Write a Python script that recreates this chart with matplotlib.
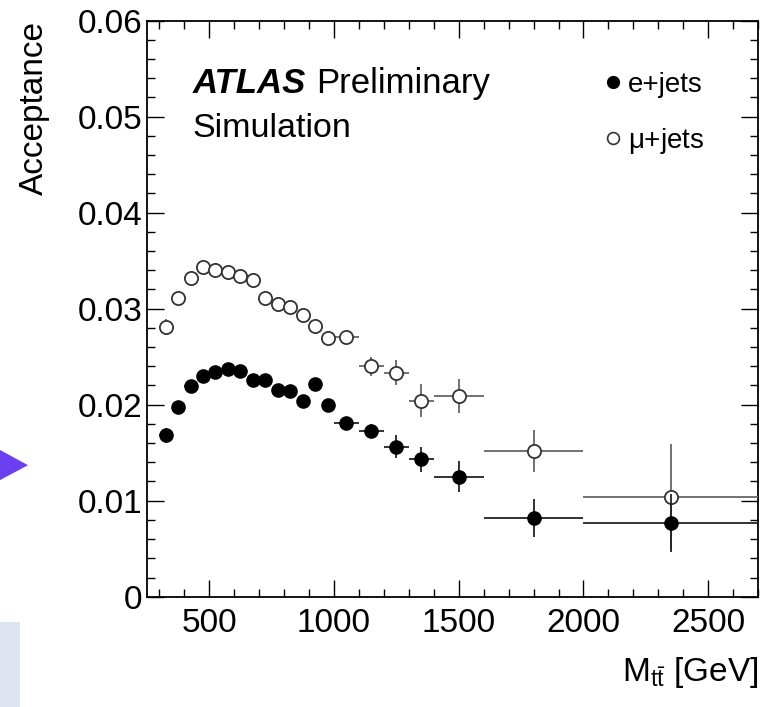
import numpy as np
import matplotlib.pyplot as plt
from matplotlib.lines import Line2D
from matplotlib.patches import Rectangle, Polygon

# DATA: acceptance vs M_tt bins
bin_lo = [300, 350, 400, 450, 500, 550, 600, 650, 700, 750, 800, 850, 900, 950,
          1000, 1100, 1200, 1300, 1400, 1600, 2000]
bin_hi = [350, 400, 450, 500, 550, 600, 650, 700, 750, 800, 850, 900, 950, 1000,
          1100, 1200, 1300, 1400, 1600, 2000, 2700]

e_acc = [0.0168, 0.0198, 0.0219, 0.0230, 0.0234, 0.0237, 0.0235, 0.0226, 0.0226,
         0.0215, 0.0214, 0.0204, 0.0222, 0.0200, 0.0181, 0.0173, 0.0156, 0.0143,
         0.0125, 0.0082, 0.0077]
e_err = [0.0008, 0.0005, 0.0004, 0.0004, 0.0004, 0.0004, 0.0004, 0.0004, 0.0004,
         0.0004, 0.0004, 0.0004, 0.0005, 0.0005, 0.0005, 0.0007, 0.0012, 0.0013,
         0.0016, 0.0020, 0.0030]

mu_acc = [0.0281, 0.0311, 0.0332, 0.0343, 0.0340, 0.0338, 0.0334, 0.0330, 0.0311,
          0.0305, 0.0302, 0.0293, 0.0282, 0.0269, 0.0270, 0.0240, 0.0233, 0.0204,
          0.0209, 0.0152, 0.0104]
mu_err = [0.0008, 0.0005, 0.0004, 0.0004, 0.0004, 0.0004, 0.0004, 0.0004, 0.0004,
          0.0004, 0.0004, 0.0004, 0.0005, 0.0005, 0.0005, 0.0010, 0.0013, 0.0017,
          0.0018, 0.0022, 0.0055]

plt.rcParams['font.family'] = ['Liberation Sans', 'DejaVu Sans']
plt.rcParams['mathtext.fontset'] = 'custom'
plt.rcParams['mathtext.rm'] = 'Liberation Sans'
plt.rcParams['mathtext.it'] = 'Liberation Sans:italic'

lo = np.array(bin_lo, dtype=float)
hi = np.array(bin_hi, dtype=float)
xc = 0.5 * (lo + hi)
xerr = 0.5 * (hi - lo)

fig = plt.figure(figsize=(7.65, 7.07), dpi=100)
ax = fig.add_axes([0.192, 0.156, 0.799, 0.815])

ax.errorbar(xc, mu_acc, yerr=mu_err, xerr=xerr, fmt='o', ms=9.5, mfc='white',
            mec='#333333', mew=1.3, ecolor='#666666', elinewidth=1.3, capsize=0,
            zorder=3)
ax.errorbar(xc, e_acc, yerr=e_err, xerr=xerr, fmt='o', ms=9.5, mfc='black',
            mec='black', ecolor='#222222', elinewidth=1.3, capsize=0,
            zorder=4)

ax.set_xlim(250, 2700)
ax.set_ylim(0, 0.06)
ax.set_xticks([500, 1000, 1500, 2000, 2500])
ax.set_xticks(np.arange(300, 2701, 100), minor=True)
ax.set_yticks([0, 0.01, 0.02, 0.03, 0.04, 0.05, 0.06])
ax.set_yticklabels(['0', '0.01', '0.02', '0.03', '0.04', '0.05', '0.06'])
ax.set_yticks(np.arange(0, 0.0601, 0.002), minor=True)
ax.tick_params(which='both', direction='in', top=True, right=True,
               labelsize=24, width=1.0)
ax.tick_params(which='major', length=12)
ax.tick_params(which='minor', length=6)
ax.tick_params(axis='y', pad=3)
ax.tick_params(axis='x', pad=8)
for s in ax.spines.values():
    s.set_linewidth(1.3)

ax.set_ylabel('Acceptance', fontsize=24, loc='top', labelpad=20)
ax.set_xlabel(r'$\mathregular{M_{t\bar{t}}}$ [GeV]', fontsize=24, loc='right',
              labelpad=12)

t = ax.text(0.075, 0.875, 'ATLAS', transform=ax.transAxes, fontsize=25,
            fontweight='bold', fontstyle='italic')
ax.annotate('Preliminary', xy=(1, 0), xycoords=t, xytext=(7, 0),
            textcoords='offset points', fontsize=25, va='bottom')
ax.text(0.075, 0.797, 'Simulation', transform=ax.transAxes, fontsize=24.5)

handles = [Line2D([], [], ls='none', marker='o', ms=8.5, mfc='black', mec='black'),
           Line2D([], [], ls='none', marker='o', ms=8.5, mfc='white', mec='#333333',
                  mew=1.2)]
ax.legend(handles, ['e+jets', r'$\mathregular{\mu}$+jets'], loc='upper left',
          bbox_to_anchor=(0.751, 0.911), frameon=False, fontsize=20,
          handlelength=0.5, handletextpad=0.3, labelspacing=1.0, borderaxespad=0,
          borderpad=0)

# slide decorations around the plot
fig.patches.append(Rectangle((0, 0), 20 / 765, 85 / 707, transform=fig.transFigure,
                             facecolor='#dfe4f1', edgecolor='none'))
fig.patches.append(Polygon([[0, 0.3635], [28 / 765, 0.342], [0, 0.321]],
                           transform=fig.transFigure, facecolor='#6a3ff0',
                           edgecolor='none'))

fig.savefig('out.png', dpi=100)
